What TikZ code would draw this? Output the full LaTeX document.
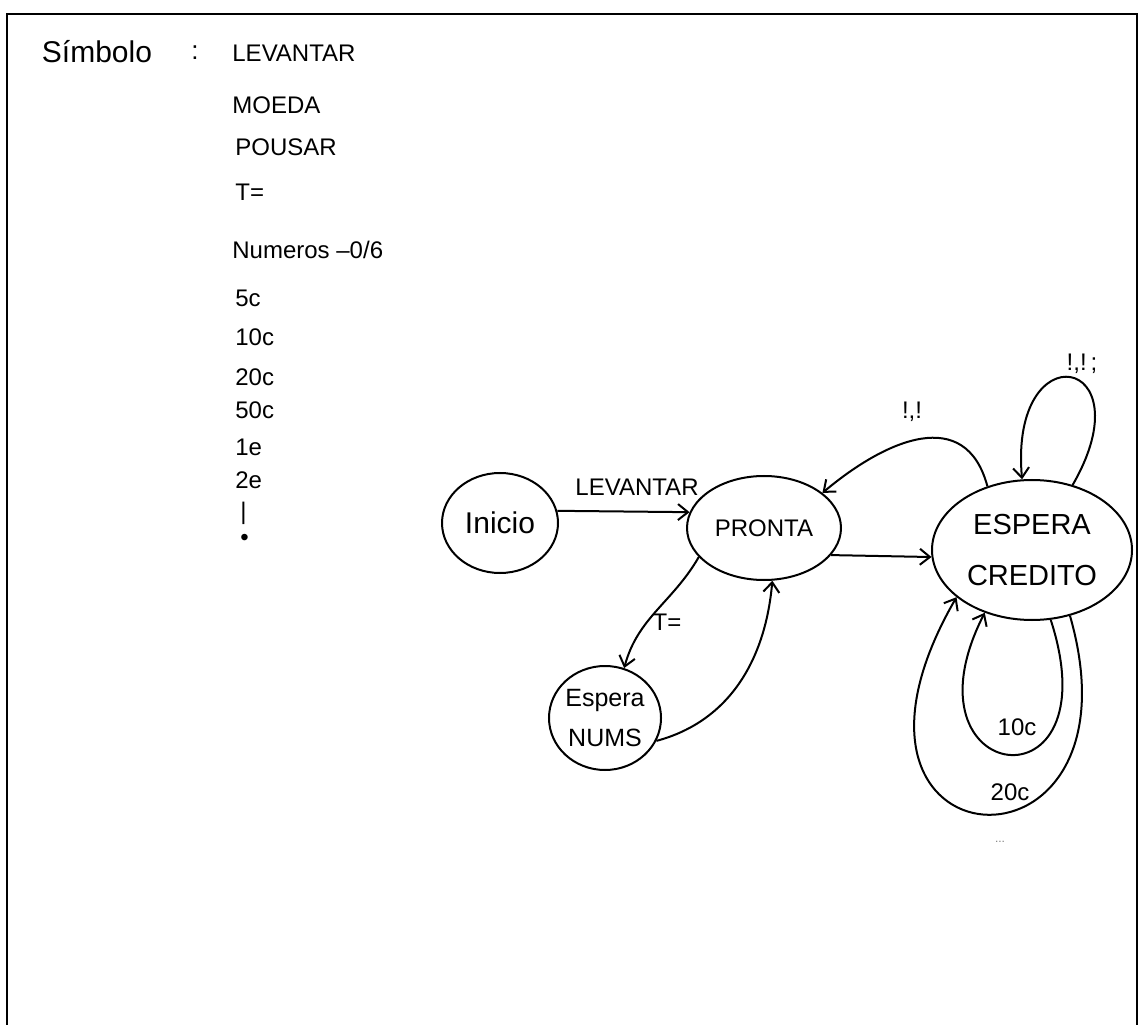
\documentclass[tikz,border=0pt]{standalone}
\usepackage{fontspec}
\setmainfont{Liberation Sans}
\usetikzlibrary{shapes.geometric,arrows.meta}
\begin{document}
\begin{tikzpicture}[x=0.5pt,y=0.5pt,
  state/.style={ellipse,draw,line width=1pt,inner sep=0pt,align=center},
  arr/.style={line width=1pt,-{Straight Barb[length=5pt,width=8pt]}},
  lbl/.style={font=\fontsize{12}{14}\selectfont},
  sym/.style={anchor=west,inner sep=0pt,font=\fontsize{12}{14}\selectfont}]
\useasboundingbox (0,0) rectangle (1140,1024);
% frame
\draw[line width=0.8pt] (7,-5) -- (7,1010) -- (1137,1010) -- (1137,-5);
% symbol list
\node[anchor=center,inner sep=0pt,font=\fontsize{15}{17}\selectfont] (title) at (97,972) {Símbolo};
\node[inner sep=0pt,font=\fontsize{13}{15}\selectfont] (colon) at (195,971) {:};
\node[sym] (s1) at (232,971) {LEVANTAR};
\node[sym] (s2) at (232,919) {MOEDA};
\node[sym] (s3) at (235,877) {POUSAR};
\node[sym] (s4) at (235,832) {T=};
\node[sym] (s5) at (232,774) {Numeros –0/6};
\node[sym] (s6) at (235,726) {5c};
\node[sym] (s7) at (235,687) {10c};
\node[sym] (s8) at (235,647) {20c};
\node[sym] (s9) at (235,614) {50c};
\node[sym] (s10) at (235,577) {1e};
\node[sym] (s11) at (235,544) {2e};
\node[sym] (s12) at (240,511) {|};
\node[sym] (s13) at (240,484) {•};
% states
\node[state,minimum width=58pt,minimum height=50pt,font=\fontsize{15}{17}\selectfont] (inicio) at (500,501) {Inicio};
\node[state,minimum width=77pt,minimum height=52pt,font=\fontsize{12}{14}\selectfont] (pronta) at (764,496) {PRONTA};
\node[state,minimum width=100pt,minimum height=70pt,font=\fontsize{14.5}{25.5}\selectfont] (espera) at (1032,474) {ESPERA\\CREDITO};
\node[state,minimum width=55pt,minimum height=52pt,font=\fontsize{12.5}{20}\selectfont] (nums) at (605,306) {Espera\\NUMS};
% edges
\draw[arr] (inicio.12) -- (pronta.168);
\node[lbl] (lLev) at (637,537) {LEVANTAR};
\draw[arr] (pronta.-22) -- (espera.184);
\draw[arr] (pronta.204) to[out=240,in=75] (nums.69);
\node[lbl] (lT) at (667,402) {T=};
\draw[arr] (nums.-24) to[out=15,in=265] (pronta.-81);
\draw[arr] (espera.125) to[out=105,in=40,looseness=1.3] (pronta.31);
\node[lbl] (lEx) at (912,612) {!,!};
\draw[arr] (espera.58) .. controls +(60:150) and +(95:150) .. (espera.98);
\node[lbl] (lLoop) at (1082,660) {!,!\,;};
\draw[arr] (espera.-75) .. controls +(-72:205) and +(243:195) .. (espera.-127);
\node[lbl] (l10) at (1017,297) {10c};
\draw[arr] (espera.-60) .. controls +(-74:290) and +(240:318) .. (espera.-148);
\node[lbl] (l20) at (1010,232) {20c};
\node[lbl,font=\fontsize{6}{7}\selectfont,gray] (dots) at (1000,182) {...};
\end{tikzpicture}
\end{document}
